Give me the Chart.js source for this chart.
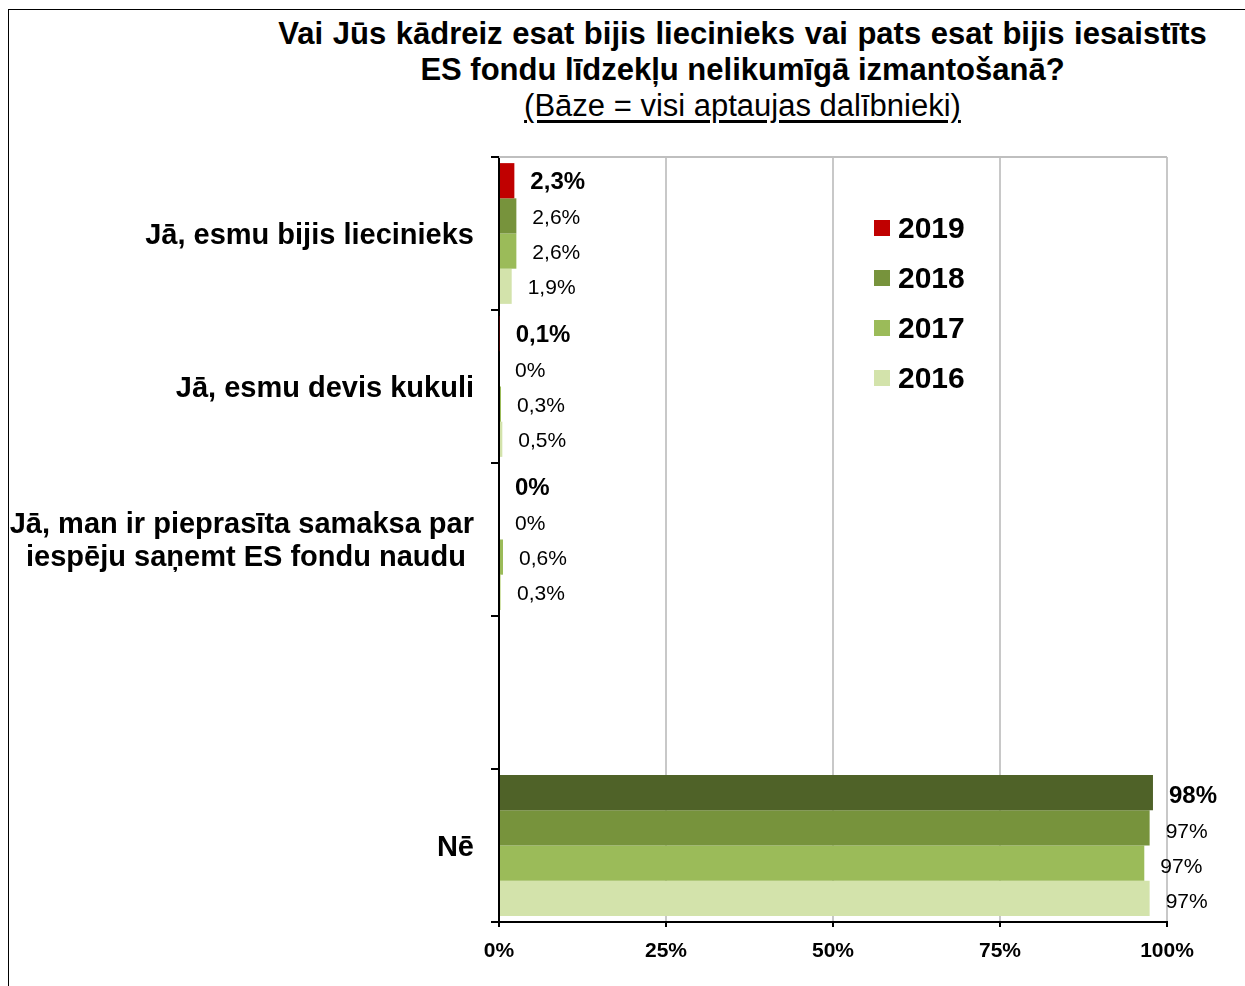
<!DOCTYPE html>
<html lang="lv">
<head>
<meta charset="utf-8">
<title>ES fondu līdzekļu nelikumīga izmantošana</title>
<script src="https://cdn.jsdelivr.net/npm/chart.js@4.4.1/dist/chart.umd.min.js"></script>
<style>
  html, body { margin: 0; padding: 0; background: #fff; }
  #wrap { position: relative; width: 1245px; height: 986px; overflow: hidden; font-family: "Liberation Sans", Arial, sans-serif; }
  #frame { position: absolute; left: 8px; top: 9px; width: 1400px; height: 1200px; border-left: 1px solid #000; border-top: 1px solid #000; }
  #heading { position: absolute; left: 240px; width: 1005px; top: 16px; text-align: center; color: #000; }
  #heading .t { font-weight: bold; font-size: 31px; line-height: 36px; white-space: nowrap; }
  #heading .t1 { word-spacing: 1px; }
  #heading .s { font-size: 31px; line-height: 36px; }
  #heading .s span { text-decoration: underline; text-underline-offset: 4px; }
  canvas { position: absolute; left: 0; top: 0; }
</style>
</head>
<body>
<div id="wrap">
  <div id="frame"></div>
  <div id="heading">
    <div class="t t1">Vai Jūs kādreiz esat bijis liecinieks vai pats esat bijis iesaistīts</div>
    <div class="t">ES fondu līdzekļu nelikumīgā izmantošanā?</div>
    <div class="s"><span>(Bāze = visi aptaujas dalībnieki)</span></div>
  </div>
  <canvas id="chart" width="1245" height="986"></canvas>
</div>
<script>
// Answer options (the fourth slot is an empty spacer row);
// the trailing no-break space keeps the two-line label visually centred
const categories = [
  'Jā, esmu bijis liecinieks',
  'Jā, esmu devis kukuli',
  ['Jā, man ir pieprasīta samaksa par', 'iespēju saņemt ES fondu naudu\u00a0'],
  '',
  'Nē'
];

// Survey years, newest first
const years = ['2019', '2018', '2017', '2016'];

// Shares of respondents, %
const values2019 = [2.3, 0.1, 0, null, 97.9];
const values2018 = [2.6, 0, 0, null, 97.4];
const values2017 = [2.6, 0.3, 0.6, null, 96.6];
const values2016 = [1.9, 0.5, 0.3, null, 97.4];

// Axis ticks, %
const xTicks = [0, 25, 50, 75, 100];

const FONT = '"Liberation Sans", Arial, sans-serif';

const colors2019 = ['#C00000', '#C00000', '#C00000', '#C00000', '#4F6228'];
const yearColors = ['#C00000', '#77933C', '#9BBB59', '#D3E3AB'];

function pctLabel(v) {
  if (v === 0) return '0%';
  if (v >= 10) return Math.round(v) + '%';
  return v.toFixed(1).replace('.', ',') + '%';
}

// Value labels to the right of each bar
const barValueLabels = {
  id: 'barValueLabels',
  afterDatasetsDraw(chart) {
    const ctx = chart.ctx;
    ctx.save();
    ctx.fillStyle = '#000';
    ctx.textAlign = 'left';
    ctx.textBaseline = 'middle';
    chart.data.datasets.forEach((ds, di) => {
      const meta = chart.getDatasetMeta(di);
      ctx.font = (di === 0 ? 'bold 24px ' : '21px ') + FONT;
      meta.data.forEach((el, i) => {
        const v = ds.data[i];
        if (v === null || v === undefined) return;
        const dy = i === 4 ? 4 : 2;
        ctx.fillText(pctLabel(v), el.x + 16, el.y + dy);
      });
    });
    ctx.restore();
  }
};

// Grey frame line along the top of the plot area
const plotTopLine = {
  id: 'plotTopLine',
  beforeDatasetsDraw(chart) {
    const { ctx, chartArea: a } = chart;
    ctx.save();
    ctx.strokeStyle = '#BFBFBF';
    ctx.lineWidth = 2;
    ctx.beginPath();
    ctx.moveTo(a.left, a.top);
    ctx.lineTo(a.right, a.top);
    ctx.stroke();
    ctx.restore();
  }
};

// Year key placed inside the plot area
const yearKey = {
  id: 'yearKey',
  afterDraw(chart) {
    const { ctx, chartArea: a } = chart;
    ctx.save();
    ctx.textAlign = 'left';
    ctx.textBaseline = 'middle';
    ctx.font = 'bold 30px ' + FONT;
    chart.data.datasets.forEach((ds, i) => {
      const cy = a.top + 71 + i * 50;
      ctx.fillStyle = yearColors[i];
      ctx.fillRect(a.left + 375, cy - 8, 16, 16);
      ctx.fillStyle = '#000';
      ctx.fillText(ds.label, a.left + 399, cy + 2);
    });
    ctx.restore();
  }
};

new Chart(document.getElementById('chart'), {
  type: 'bar',
  data: {
    labels: categories,
    datasets: [
      { label: years[0], data: values2019, backgroundColor: colors2019 },
      { label: years[1], data: values2018, backgroundColor: yearColors[1] },
      { label: years[2], data: values2017, backgroundColor: yearColors[2] },
      { label: years[3], data: values2016, backgroundColor: yearColors[3] }
    ]
  },
  options: {
    indexAxis: 'y',
    responsive: false,
    animation: false,
    devicePixelRatio: 1,
    datasets: { bar: { categoryPercentage: 0.92, barPercentage: 1.0, borderWidth: 0 } },
    layout: { padding: { top: 157, right: 78, left: 0, bottom: 0 } },
    plugins: { legend: { display: false }, title: { display: false }, tooltip: { enabled: false } },
    scales: {
      x: {
        min: 0,
        max: 100,
        afterBuildTicks(scale) { scale.ticks = xTicks.map(v => ({ value: v })); },
        afterFit(scale) { scale.height = 64; },
        ticks: {
          callback: v => v + '%',
          color: '#000',
          font: { family: FONT, size: 21, weight: 'bold' },
          padding: 12
        },
        grid: { color: '#C8C8C8', lineWidth: 2, tickColor: '#000', tickLength: 5 },
        border: { color: '#000', width: 2 }
      },
      y: {
        afterFit(scale) { scale.width = 499; },
        ticks: {
          color: '#000',
          font: { family: FONT, size: 29, weight: 'bold', lineHeight: 1.14 },
          padding: 17,
          labelOffset: 2,
          autoSkip: false
        },
        grid: { drawOnChartArea: false, offset: true, tickColor: '#000', tickLength: 8, lineWidth: 2 },
        border: { color: '#000', width: 2 }
      }
    }
  },
  plugins: [plotTopLine, barValueLabels, yearKey]
});
</script>
</body>
</html>
